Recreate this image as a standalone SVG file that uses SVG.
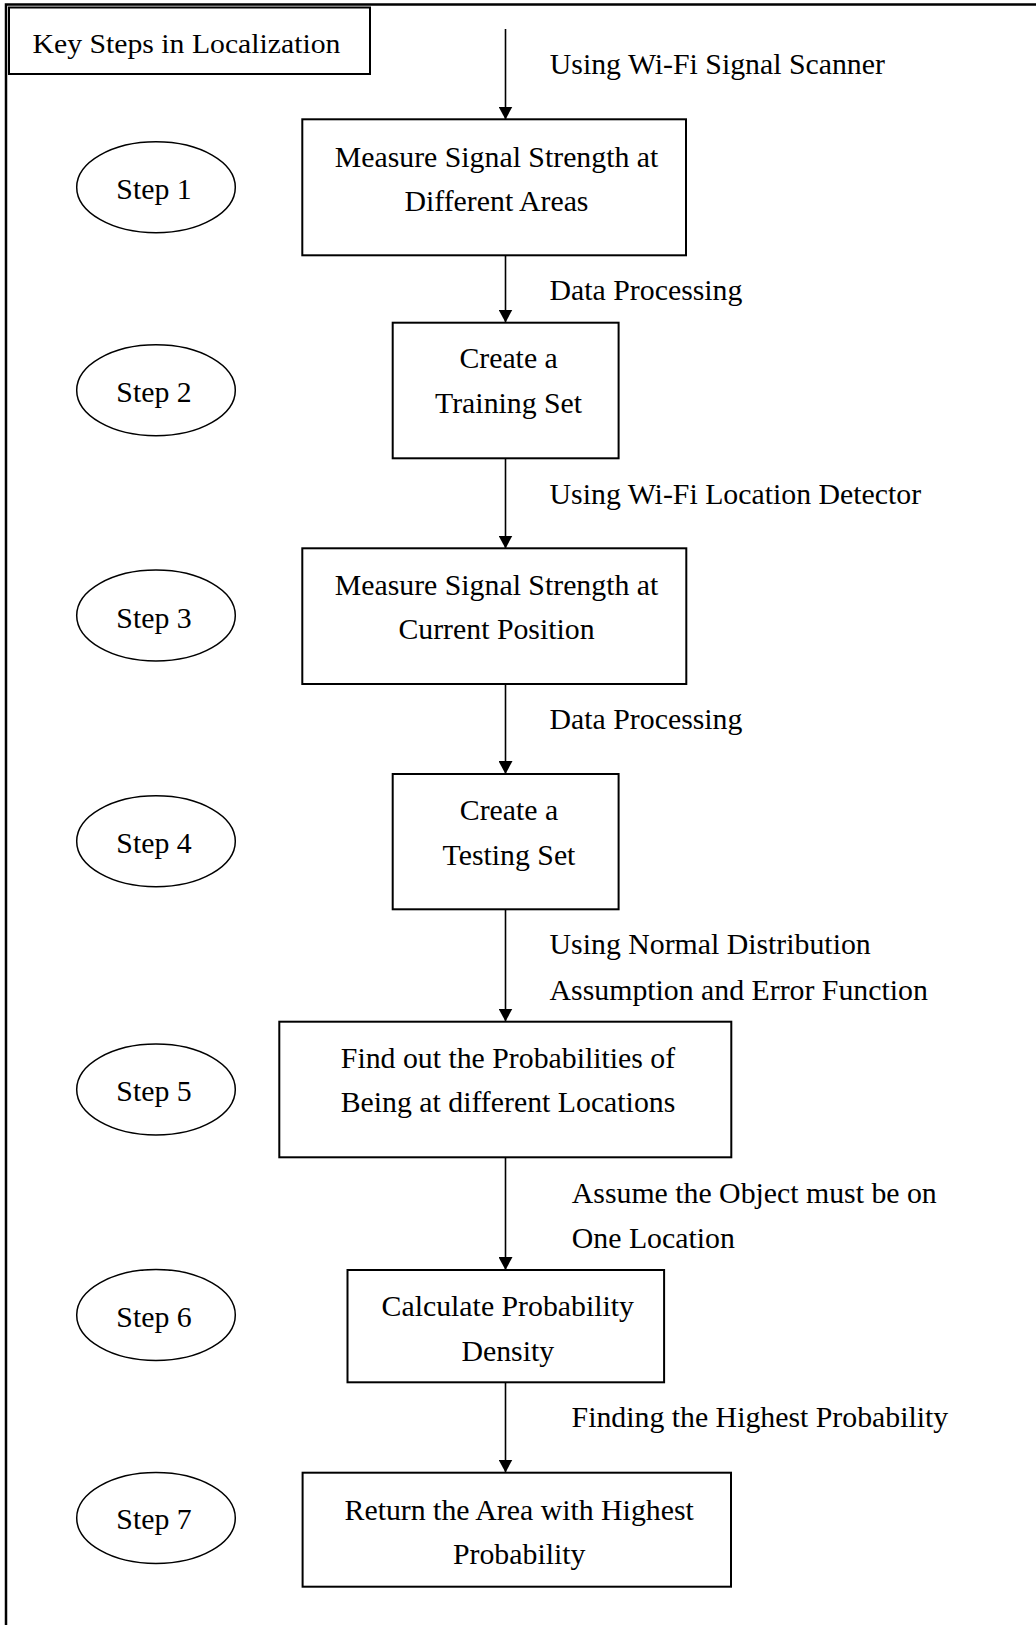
<svg xmlns="http://www.w3.org/2000/svg" width="1036" height="1625" viewBox="0 0 1036 1625">
<style>
text { font-family: "Liberation Serif", "Times New Roman", serif; font-size: 29.8px; fill: #000; }
.mid { text-anchor: middle; }
.box { fill: #fff; stroke: #000; stroke-width: 2; }
.step { fill: #fff; stroke: #000; stroke-width: 1.5; }
.conn { stroke: #000; stroke-width: 1.6; fill: none; marker-end: url(#arrow); }
</style>
<defs>
<marker id="arrow" markerUnits="userSpaceOnUse" markerWidth="14" markerHeight="14" refX="13" refY="7" orient="auto">
<path d="M0,0 L13,7 L0,14 z" fill="#000"/>
</marker>
</defs>
<rect x="0" y="0" width="1036" height="1625" fill="#fff"/>
<g id="frame">
<rect x="6" y="4.5" width="1040" height="1640" fill="none" stroke="#000" stroke-width="2.5"/>
</g>
<g id="title">
<rect x="9" y="7.5" width="361" height="66.5" class="box"/>
<text x="32.5" y="53" textLength="308" lengthAdjust="spacingAndGlyphs" style="font-size:28px">Key Steps in Localization</text>
</g>
<g id="connectors">
<line x1="505.5" y1="29" x2="505.5" y2="119.5" class="conn"/>
<line x1="505.5" y1="255.5" x2="505.5" y2="322.5" class="conn"/>
<line x1="505.5" y1="458.5" x2="505.5" y2="548.5" class="conn"/>
<line x1="505.5" y1="684" x2="505.5" y2="774" class="conn"/>
<line x1="505.5" y1="909.5" x2="505.5" y2="1021.5" class="conn"/>
<line x1="505.5" y1="1157.5" x2="505.5" y2="1270" class="conn"/>
<line x1="505.5" y1="1382.5" x2="505.5" y2="1472.5" class="conn"/>
<text x="549.8" y="74">Using Wi-Fi Signal Scanner</text>
<text x="549.6" y="300">Data Processing</text>
<text x="549.6" y="503.5">Using Wi-Fi Location Detector</text>
<text x="549.6" y="728.5">Data Processing</text>
<text x="549.6" y="954">Using Normal Distribution</text>
<text x="549.6" y="999.5">Assumption and Error Function</text>
<text x="571.8" y="1202.5">Assume the Object must be on</text>
<text x="571.8" y="1247.5">One Location</text>
<text x="571.6" y="1426.5">Finding the Highest Probability</text>
</g>
<g id="step1">
<ellipse cx="156" cy="187.2" rx="79.3" ry="45.5" class="step"/>
<text x="154" y="199" class="mid">Step 1</text>
</g>
<g id="step2">
<ellipse cx="156" cy="390.3" rx="79.3" ry="45.5" class="step"/>
<text x="154" y="402.3" class="mid">Step 2</text>
</g>
<g id="step3">
<ellipse cx="156" cy="615.5" rx="79.3" ry="45.5" class="step"/>
<text x="154" y="628" class="mid">Step 3</text>
</g>
<g id="step4">
<ellipse cx="156" cy="841.2" rx="79.3" ry="45.5" class="step"/>
<text x="154" y="853.3" class="mid">Step 4</text>
</g>
<g id="step5">
<ellipse cx="156" cy="1089.5" rx="79.3" ry="45.5" class="step"/>
<text x="154" y="1101" class="mid">Step 5</text>
</g>
<g id="step6">
<ellipse cx="156" cy="1315" rx="79.3" ry="45.5" class="step"/>
<text x="154" y="1326.7" class="mid">Step 6</text>
</g>
<g id="step7">
<ellipse cx="156" cy="1518" rx="79.3" ry="45.5" class="step"/>
<text x="154" y="1529" class="mid">Step 7</text>
</g>
<g id="box1">
<rect x="302.3" y="119.3" width="383.7" height="136" class="box"/>
<text x="496.5" y="166.7" class="mid">Measure Signal Strength at</text>
<text x="496.5" y="210.7" class="mid">Different Areas</text>
</g>
<g id="box2">
<rect x="392.7" y="322.7" width="225.9" height="135.6" class="box"/>
<text x="508.6" y="368.3" class="mid">Create a</text>
<text x="508.6" y="413.3" class="mid">Training Set</text>
</g>
<g id="box3">
<rect x="302.3" y="548.3" width="384" height="135.7" class="box"/>
<text x="496.5" y="595" class="mid">Measure Signal Strength at</text>
<text x="496.5" y="639" class="mid">Current Position</text>
</g>
<g id="box4">
<rect x="392.7" y="774" width="225.9" height="135.3" class="box"/>
<text x="509" y="820" class="mid">Create a</text>
<text x="509" y="865" class="mid">Testing Set</text>
</g>
<g id="box5">
<rect x="279.3" y="1021.7" width="452" height="135.6" class="box"/>
<text x="508" y="1068" class="mid">Find out the Probabilities of</text>
<text x="508" y="1111.7" class="mid">Being at different Locations</text>
</g>
<g id="box6">
<rect x="347.5" y="1270" width="316.6" height="112.3" class="box"/>
<text x="507.8" y="1316" class="mid">Calculate Probability</text>
<text x="507.8" y="1361" class="mid">Density</text>
</g>
<g id="box7">
<rect x="302.6" y="1472.7" width="428.4" height="114" class="box"/>
<text x="519.2" y="1520" class="mid">Return the Area with Highest</text>
<text x="519.2" y="1563.5" class="mid">Probability</text>
</g>
</svg>
